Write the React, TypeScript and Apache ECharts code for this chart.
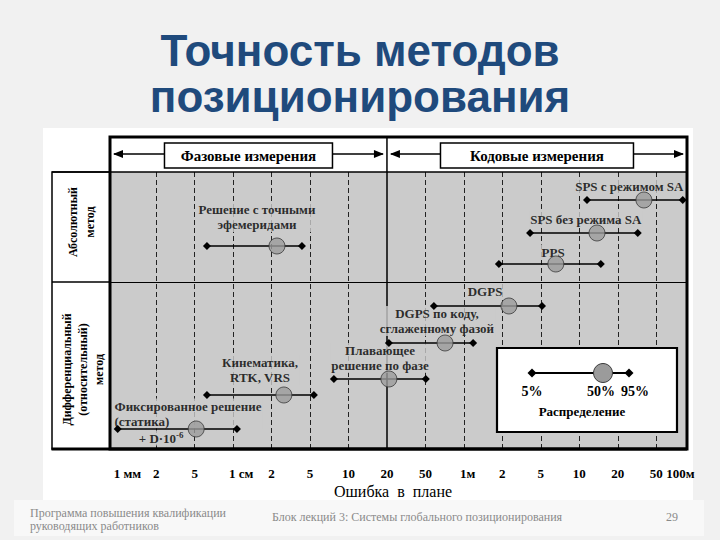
import React, { useEffect, useRef } from "react";
import * as echarts from "echarts";

// ---- data (x values are positions on the 1-2-5 error scale: 0 = 1 мм ... 15 = 100 м) ----
const tickLabels = ["1 мм", "2", "5", "1 см", "2", "5", "10", "20", "50", "1м", "2", "5", "10", "20", "50", "100м"];
const methodNames = [
  "SPS с режимом SA",
  "SPS без режима SA",
  "PPS",
  "Решение с точными эфемеридами",
  "DGPS",
  "DGPS по коду, сглаженному фазой",
  "Плавающее решение по фазе",
  "Кинематика, RTK, VRS",
  "Фиксированное решение (статика)",
];
const p5 = [12.2, 10.72, 9.91, 2.32, 8.22, 7.05, 5.62, 2.32, 0.0];
const p50 = [13.68, 12.46, 11.39, 4.14, 10.17, 8.51, 7.05, 4.32, 2.04];
const p95 = [14.69, 13.52, 12.56, 4.79, 11.03, 9.24, 8.01, 5.1, 3.1];
const rowLevel = [249, 216, 185, 203, 143, 106, 70, 54, 20];
const dividerLevel = 167;
const boundaryTick = 7; // граница фазовых / кодовых измерений (20 см)

const annotationTexts = [
  "SPS с режимом SA",
  "SPS без режима SA",
  "PPS",
  "Решение с точными\nэфемеридами",
  "DGPS",
  "DGPS по коду,\nсглаженному фазой",
  "Плавающее\nрешение по фазе",
  "Кинематика,\nRTK, VRS",
  "Фиксированное решение\n(статика)",
  "+ D·10{s|-6}",
];
// layout: label anchors in axis units
const annotationAnchor: [number, number, string][] = [
  [13.3, 263, "center"],
  [12.17, 230, "center"],
  [11.32, 197, "center"],
  [3.62, 232, "center"],
  [9.55, 158, "center"],
  [8.3, 128, "center"],
  [6.82, 91, "center"],
  [3.7, 79, "center"],
  [-0.11, 35.5, "left"],
  [1.13, 11, "center"],
];
const headerLabels = ["Фазовые измерения", "Кодовые измерения"];
const rowHeads = ["Абсолютный\nметод", "Дифференциальный\n(относительный)\nметод"];
const legendLabels = ["5%", "50%", "95%"];
const legendTitle = "Распределение";
const axisTitle = "Ошибка  в  плане";
const pageTitle = ["Точность методов", "позиционирования"];
const footer = ["Программа повышения квалификации\nруководящих работников", "Блок лекций 3: Системы глобального позиционирования", "29"];

const SERIF = '"Liberation Serif", "Times New Roman", serif';
const GRAY = "#cbcbcb";

export default function App() {
  const ref = useRef<HTMLDivElement>(null);
  useEffect(() => {
    if (!ref.current) return;
    const chart = echarts.init(ref.current, null, { renderer: "svg" });
    const labelBase = {
      show: true,
      fontFamily: SERIF,
      fontWeight: "bold" as const,
      fontSize: 13,
      lineHeight: 15,
      color: "#000",
      backgroundColor: GRAY,
      padding: [0, 1],
      rich: { s: { fontSize: 9, lineHeight: 9, verticalAlign: "top", fontWeight: "bold", fontFamily: SERIF, color: "#000" } },
    };
    const gridTicks = tickLabels.map((_, i) => i).filter((i) => i > 0 && i < tickLabels.length - 1 && i !== boundaryTick);
    const option: any = {
      animation: false,
      grid: { left: 110, right: 33, top: 172, bottom: 91, show: true, backgroundColor: GRAY, borderWidth: 0 },
      xAxis: {
        type: "value",
        min: -0.2,
        max: 14.8,
        axisLine: { show: false },
        axisTick: { show: false },
        axisLabel: { show: false },
        splitLine: { show: false },
      },
      yAxis: {
        type: "value",
        min: 0,
        max: 277,
        axisLine: { show: false },
        axisTick: { show: false },
        axisLabel: { show: false },
        splitLine: { show: false },
      },
      series: [
        {
          type: "scatter",
          data: [],
          silent: true,
          z: 1,
          markLine: {
            z: 1,
            silent: true,
            symbol: ["none", "none"],
            label: { show: false },
            lineStyle: { color: "#222", type: [5, 3], width: 1 },
            data: [
              ...gridTicks.map((i) => ({ xAxis: i })),
              { xAxis: boundaryTick, lineStyle: { type: "solid", color: "#000", width: 1.5 } },
              { yAxis: dividerLevel, lineStyle: { type: "solid", color: "#000", width: 1.2 } },
            ],
          },
        },
        {
          type: "scatter",
          data: annotationTexts.map((t, i) => ({
            name: t,
            value: [annotationAnchor[i][0], annotationAnchor[i][1]],
            label: {
              ...labelBase,
              position: annotationAnchor[i][2] === "left" ? "right" : "inside",
              distance: 0,
              align: annotationAnchor[i][2] === "left" ? "left" : "center",
              formatter: "{b}",
            },
          })),
          symbolSize: 0,
          silent: true,
          z: 2,
          itemStyle: { color: "transparent" },
        },
        ...methodNames.map((name, i) => ({
          type: "line",
          name,
          data: [
            [p5[i], rowLevel[i]],
            [p95[i], rowLevel[i]],
          ],
          symbol: "diamond",
          symbolSize: 8,
          silent: true,
          z: 3,
          itemStyle: { color: "#000" },
          lineStyle: { color: "#000", width: 1.5 },
        })),
        {
          type: "scatter",
          name: "50%",
          data: p50.map((v, i) => [v, rowLevel[i]]),
          symbol: "circle",
          symbolSize: 16,
          silent: true,
          z: 4,
          itemStyle: { color: "#9b9b9b", borderColor: "#3a3a3a", borderWidth: 1 },
        },
      ],
    };
    chart.setOption(option);

    const px = (v: number) => chart.convertToPixel({ xAxisIndex: 0 }, v) as number;
    const py = (v: number) => chart.convertToPixel({ yAxisIndex: 0 }, v) as number;
    const left = px(-0.2);
    const right = px(14.8);
    const gTop = py(277);
    const gBottom = py(0);
    const frameTop = gTop - 35;
    const xb = px(boundaryTick);
    const yDiv = py(dividerLevel);
    const colLeft = 52;
    const arrowY = frameTop + 17;

    const txt = (text: string, x: number, y: number, font: string, extra: any = {}) => ({
      type: "text",
      x,
      y,
      z: 20,
      style: {
        text,
        font,
        fill: "#000",
        align: "center",
        textAlign: "center",
        verticalAlign: "middle",
        textVerticalAlign: "middle",
        ...extra,
      },
    });
    const ln = (x1: number, y1: number, x2: number, y2: number, w = 1.5) => ({
      type: "line",
      z: 20,
      shape: { x1, y1, x2, y2 },
      style: { stroke: "#000", lineWidth: w },
    });
    const arrowHead = (x: number, y: number, dir: number) => ({
      type: "polygon",
      z: 20,
      shape: { points: [[x, y], [x - dir * 10, y - 4], [x - dir * 10, y + 4]] },
      style: { fill: "#000" },
    });
    const diamond = (x: number, y: number) => ({
      type: "polygon",
      z: 21,
      shape: { points: [[x, y - 4.5], [x + 4.5, y], [x, y + 4.5], [x - 4.5, y]] },
      style: { fill: "#000" },
    });

    const segs = [
      { a: left, b: xb, w: 168 },
      { a: xb, b: right, w: 193 },
    ];
    const header: any[] = [];
    segs.forEach((s, k) => {
      const c = (s.a + s.b) / 2;
      const bx0 = c - s.w / 2;
      const bx1 = c + s.w / 2;
      header.push(ln(s.a + 4, arrowY, bx0, arrowY, 1.5));
      header.push(ln(bx1, arrowY, s.b - 4, arrowY, 1.5));
      header.push(arrowHead(s.a + 3, arrowY, -1));
      header.push(arrowHead(s.b - 3, arrowY, 1));
      header.push({
        type: "rect",
        z: 20,
        shape: { x: bx0, y: frameTop + 6, width: s.w, height: 25 },
        style: { fill: "#fff", stroke: "#000", lineWidth: 1.5 },
      });
      header.push(txt(headerLabels[k], c, frameTop + 19, `bold 15px ${SERIF}`));
    });

    const ticks = tickLabels.map((t, i) => {
      const last = i === tickLabels.length - 1;
      const hasUnit = /[а-яА-Я]/.test(t);
      if (last) return txt(t, px(i), gBottom + 24, `bold 13px ${SERIF}`, { align: "right", textAlign: "right" });
      if (hasUnit) return txt(t, px(i) - 4, gBottom + 24, `bold 13px ${SERIF}`, { align: "left", textAlign: "left" });
      return txt(t, px(i), gBottom + 24, `bold 13px ${SERIF}`);
    });

    const lgX0 = 497, lgY0 = 348, lgW = 180, lgH = 84;
    const lgLine = lgY0 + 25;
    const lgA = lgX0 + 35, lgB = lgX0 + 106, lgC = lgX0 + 132;
    const legend: any[] = [
      { type: "rect", z: 20, shape: { x: lgX0, y: lgY0, width: lgW, height: lgH }, style: { fill: "#fff", stroke: "#000", lineWidth: 2.2 } },
      ln(lgA, lgLine, lgC, lgLine, 2),
      diamond(lgA, lgLine),
      diamond(lgC, lgLine),
      { type: "circle", z: 21, shape: { cx: lgB, cy: lgLine, r: 9.5 }, style: { fill: "#9b9b9b", stroke: "#3a3a3a", lineWidth: 1 } },
      txt(legendLabels[0], lgA, lgY0 + 43, `bold 14px ${SERIF}`),
      txt(legendLabels[1], lgB - 2, lgY0 + 43, `bold 14px ${SERIF}`),
      txt(legendLabels[2], lgC + 6, lgY0 + 43, `bold 14px ${SERIF}`),
      txt(legendTitle, lgX0 + 85, lgY0 + 63, `bold 13px ${SERIF}`),
    ];

    const rowHead0: any = txt(rowHeads[0], (colLeft + left) / 2, (gTop + yDiv) / 2 - 5, `bold 12px ${SERIF}`, { lineHeight: 17 });
    rowHead0.rotation = Math.PI / 2;
    const rowHead1: any = txt(rowHeads[1], (colLeft + left) / 2 + 2, (yDiv + gBottom) / 2 + 4, `bold 12px ${SERIF}`, { lineHeight: 16 });
    rowHead1.rotation = Math.PI / 2;

    const graphics: any[] = [
      txt(pageTitle[0], 360, 50, `bold 44px "Liberation Sans", Arial, sans-serif`, { fill: "#1f4a7c" }),
      txt(pageTitle[1], 360, 96, `bold 44px "Liberation Sans", Arial, sans-serif`, { fill: "#1f4a7c" }),
      // left column
      { type: "rect", z: 19, shape: { x: colLeft, y: gTop, width: left - colLeft, height: gBottom - gTop }, style: { fill: "#fff", stroke: "#000", lineWidth: 1.5 } },
      ln(colLeft, yDiv, left, yDiv, 1.5),
      rowHead0,
      rowHead1,
      // frame
      ln(colLeft, gTop, right, gTop, 1.5),
      ln(xb, frameTop, xb, gTop, 1.5),
      { type: "rect", z: 20, shape: { x: left, y: frameTop, width: right - left, height: gBottom - frameTop }, style: { fill: "none", stroke: "#000", lineWidth: 3 } },
      ln(colLeft - 0.5, gBottom, right, gBottom, 3),
      ...header,
      ...ticks,
      txt(axisTitle, 393, gBottom + 42, `16px ${SERIF}`),
      ...legend,
      txt(footer[0], 30, 519, `12px ${SERIF}`, { fill: "#8a8a8a", align: "left", textAlign: "left", lineHeight: 13 }),
      txt(footer[1], 272, 517, `12px ${SERIF}`, { fill: "#8a8a8a", align: "left", textAlign: "left" }),
      txt(footer[2], 672, 517, `12px ${SERIF}`, { fill: "#8a8a8a" }),
    ];

    chart.setOption({ graphic: { elements: graphics } });
    return () => chart.dispose();
  }, []);

  return (
    <div style={{ position: "fixed", left: 0, top: 0, width: 720, height: 540, background: "#f1f1f1" }}>
      <div style={{ position: "absolute", left: 43, top: 128, width: 650, height: 372, background: "#fff" }} />
      <div style={{ position: "absolute", left: 14, top: 500, width: 690, height: 36, background: "#f8f8f8" }} />
      <div ref={ref} style={{ position: "absolute", left: 0, top: 0, width: 720, height: 540 }} />
    </div>
  );
}
